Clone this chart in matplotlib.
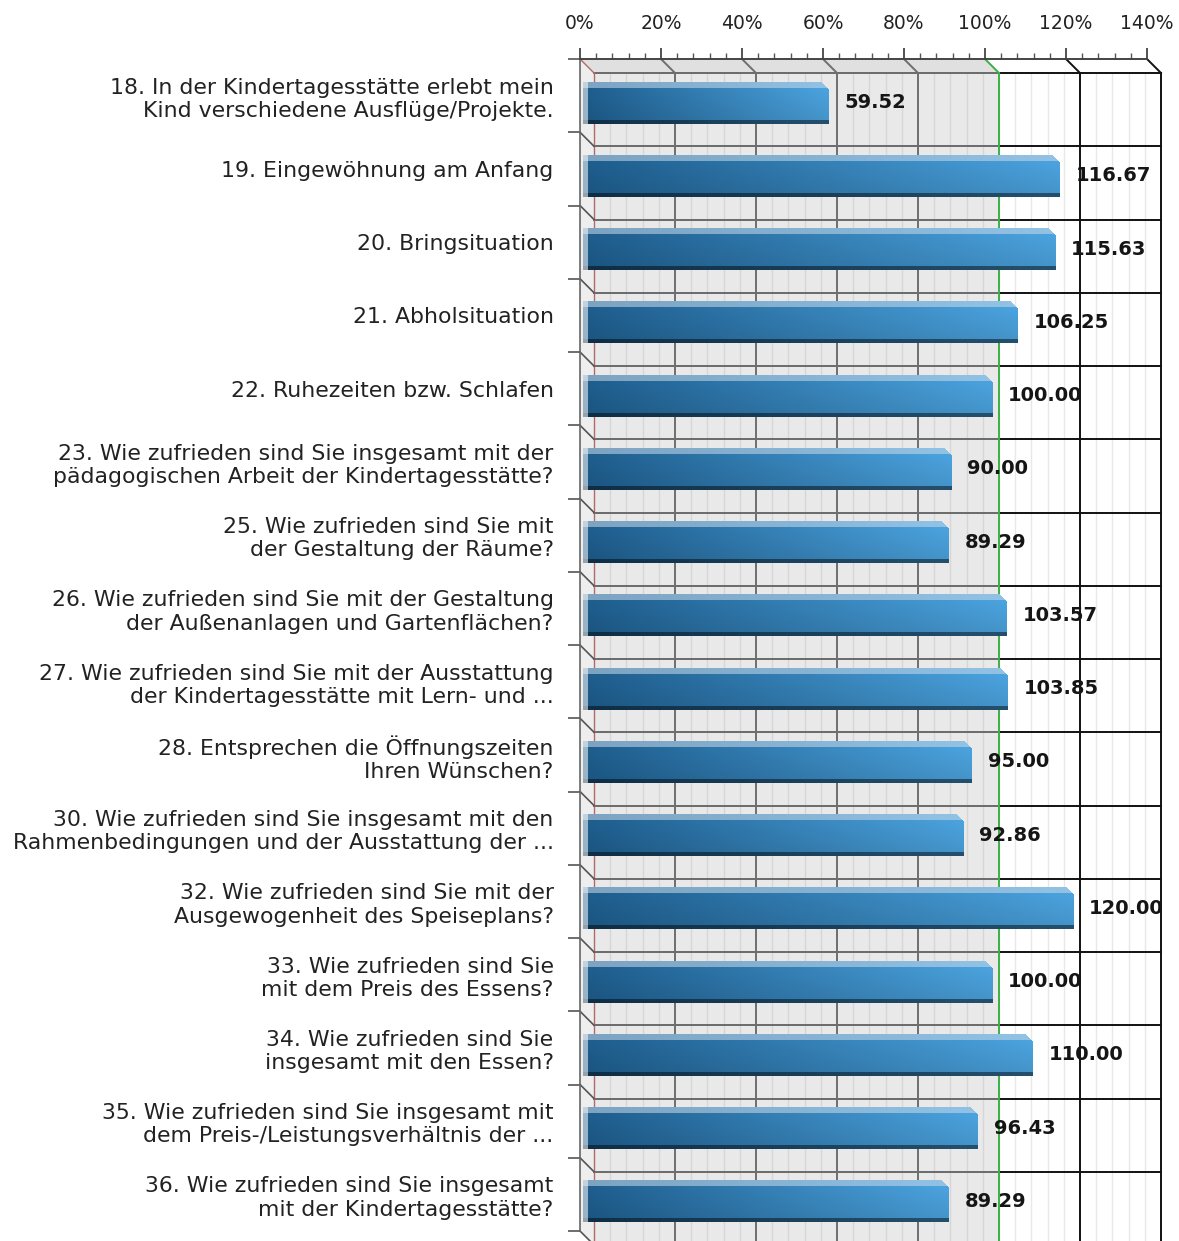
import numpy as np
import matplotlib.pyplot as plt
from matplotlib.patches import Polygon, Rectangle
from matplotlib.colors import to_rgb

# survey items (question text as shown on the chart)
labels = [
    "18. In der Kindertagesstätte erlebt mein\nKind verschiedene Ausflüge/Projekte.",
    "19. Eingewöhnung am Anfang",
    "20. Bringsituation",
    "21. Abholsituation",
    "22. Ruhezeiten bzw. Schlafen",
    "23. Wie zufrieden sind Sie insgesamt mit der\npädagogischen Arbeit der Kindertagesstätte?",
    "25. Wie zufrieden sind Sie mit\nder Gestaltung der Räume?",
    "26. Wie zufrieden sind Sie mit der Gestaltung\nder Außenanlagen und Gartenflächen?",
    "27. Wie zufrieden sind Sie mit der Ausstattung\nder Kindertagesstätte mit Lern- und ...",
    "28. Entsprechen die Öffnungszeiten\nIhren Wünschen?",
    "30. Wie zufrieden sind Sie insgesamt mit den\nRahmenbedingungen und der Ausstattung der ...",
    "32. Wie zufrieden sind Sie mit der\nAusgewogenheit des Speiseplans?",
    "33. Wie zufrieden sind Sie\nmit dem Preis des Essens?",
    "34. Wie zufrieden sind Sie\ninsgesamt mit den Essen?",
    "35. Wie zufrieden sind Sie insgesamt mit\ndem Preis-/Leistungsverhältnis der ...",
    "36. Wie zufrieden sind Sie insgesamt\nmit der Kindertagesstätte?",
]
values = [59.52, 116.67, 115.63, 106.25, 100.00, 90.00, 89.29, 103.57,
          103.85, 95.00, 92.86, 120.00, 100.00, 110.00, 96.43, 89.29]
x_ticks = [0, 20, 40, 60, 80, 100, 120, 140]
x_ticklabels = ["0%", "20%", "40%", "60%", "80%", "100%", "120%", "140%"]

W, H, DPI = 1179, 1241, 100
n = len(values)
xmax = 140
depth = 14  # px, fake 3d depth

fig = plt.figure(figsize=(W / DPI, H / DPI), dpi=DPI)
left, right, top, bottom = 580, 1147, 59, 1231
ax = fig.add_axes([left / W, 1 - bottom / H, (right - left) / W, (bottom - top) / H])
ax.patch.set_visible(False)

# depth in data units
dx = depth * xmax / (right - left)
dy = depth * n / (bottom - top)
y0, y1 = -0.5, n - 0.5

# walls
ax.add_patch(Rectangle((dx, y0 + dy), 100, n, facecolor="#e9e9e9", edgecolor="none", zorder=0, clip_on=False))
ax.add_patch(Polygon([(0, y0), (dx, y0 + dy), (dx, y1 + dy), (0, y1)],
                     facecolor="#eeeeee", edgecolor="none", zorder=0, clip_on=False))
ax.add_patch(Polygon([(0, y0), (100, y0), (100 + dx, y0 + dy), (dx, y0 + dy)],
                     facecolor="#e0e0e0", edgecolor="none", zorder=0, clip_on=False))

# minor grid on back wall
for x in range(4, xmax, 4):
    if x % 20 == 0:
        continue
    c = "#d6d6d6" if x < 100 else "#e8e8e8"
    ax.plot([x + dx, x + dx], [y0 + dy, y1 + dy], color=c, lw=1, zorder=1, clip_on=False)

# horizontal row lines on back wall
for b in np.arange(y0, y1, 1.0):
    ax.plot([dx, 100 + dx], [b + dy, b + dy], color="#6a6a6a", lw=1.4, zorder=1, clip_on=False)
    ax.plot([100 + dx, xmax + dx], [b + dy, b + dy], color="#111111", lw=1.4, zorder=1, clip_on=False)

# major grid lines + diagonals on top
def major_color(x):
    if x == 0:
        return "#b06a6a"
    if x == 100:
        return "#3bb143"
    if x > 100:
        return "#111111"
    return "#6e6e6e"

for x in x_ticks:
    c = major_color(x)
    lw = 1.0 if x == 0 else 1.4
    ax.plot([x + dx, x + dx], [y0 + dy, y1 + dy], color=c, lw=lw, zorder=1.5, clip_on=False)
    ax.plot([x, x + dx], [y0, y0 + dy], color=c, lw=lw, zorder=1.5, clip_on=False)

# left diagonals at row boundaries
for b in np.arange(y0 + 1, y1 + 1, 1.0):
    ax.plot([0, dx], [b, b + dy], color="#555555", lw=1.2, zorder=1.5, clip_on=False)

# bars
dark = np.array(to_rgb("#1d5b8a"))
light = np.array(to_rgb("#4aa0da"))
face_top = np.array([0.80, 0.87, 0.93])
bh = 42 / ((bottom - top) / n)
px_per_x = (right - left) / xmax
clip_rect = Rectangle((0, y0), xmax + dx, n + dy, transform=ax.transData)

for i, v in enumerate(values):
    xa = dx * 0.2
    xb = v + dx / 2
    ya = i + dy / 2 - bh / 2
    w = max(int((xb - xa) * px_per_x), 10)
    h = 42
    t = np.linspace(0, 1, w)[:, None]
    base = dark[None, :] + (light - dark)[None, :] * t      # (w, 3)
    shade = 1.04 - 0.12 * np.linspace(0, 1, h)               # (h,)
    img = base[None, :, :] * shade[:, None, None]
    ntop = int(0.15 * h)
    nbot = int(0.10 * h)
    img[:ntop] = base[None, :, :] * 0.45 + face_top * 0.55
    img[h - nbot:] = base[None, :, :] * 0.5
    alpha = np.ones((h, w))
    # light translucent left end
    img[:, :5] = img[:, :5] * 0.6 + 0.4
    alpha[:, :5] = 0.7
    # chamfer at the top right corner
    for rr in range(ntop + 1):
        alpha[rr, w - (ntop + 1 - rr):] = 0
    rgba = np.dstack([np.clip(img, 0, 1), alpha])
    ax.imshow(rgba, extent=(xa, xb, ya + bh, ya), aspect="auto",
              interpolation="bilinear", zorder=3, clip_on=False)
    txt = ax.text(xb + 16 / px_per_x, i + dy / 2, f"{v:.2f}", ha="left", va="center",
                  fontsize=14, fontweight="bold", color="#151515", zorder=4)
    txt.set_clip_path(clip_rect)

ax.set_xlim(0, xmax)
ax.set_ylim(y1, y0)

# axes
ax.xaxis.tick_top()
ax.set_xticks(x_ticks)
ax.set_xticklabels(x_ticklabels)
ax.set_xticks(np.arange(0, xmax + 1, 4), minor=True)
ax.tick_params(axis="x", which="major", length=8, width=1.3, colors="#444444",
               labelcolor="#222222", labelsize=13.5, pad=11)
ax.tick_params(axis="x", which="minor", length=4.3, width=1.0, colors="#555555")

ax.set_yticks(range(n))
ax.set_yticklabels(labels, fontsize=15.8, color="#222222", linespacing=1.2)
ax.set_yticks(np.arange(y0, y1 + 0.01, 1.0), minor=True)
ax.tick_params(axis="y", which="major", length=0, pad=19)
ax.tick_params(axis="y", which="minor", length=8.5, width=1.2, colors="#555555")

ax.spines["top"].set_color("#444444")
ax.spines["top"].set_linewidth(1.4)
ax.spines["left"].set_color("#666666")
ax.spines["left"].set_linewidth(1.2)
ax.spines["right"].set_visible(False)
ax.spines["bottom"].set_visible(False)

fig.savefig("out.png", dpi=DPI)
